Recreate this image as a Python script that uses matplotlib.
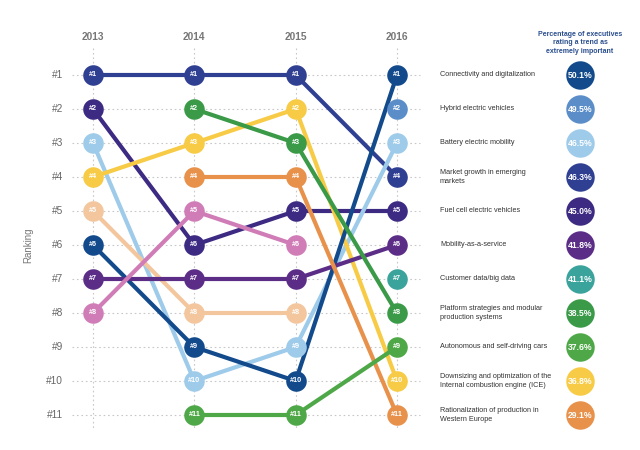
import numpy as np
import matplotlib
matplotlib.use("Agg")
import matplotlib.pyplot as plt

plt.rcParams['font.family'] = ['Liberation Sans', 'DejaVu Sans']

years = ["2013", "2014", "2015", "2016"]
rank_labels = ["#1", "#2", "#3", "#4", "#5", "#6", "#7", "#8", "#9", "#10", "#11"]

nan = np.nan
# ranks per year (2013, 2014, 2015, 2016)
connectivity = [6, 9, 10, 1]
hybrid = [nan, nan, nan, 2]
battery = [3, 10, 9, 3]
market_growth = [1, 1, 1, 4]
fuel_cell = [2, 6, 5, 5]
mobility = [7, 7, 7, 6]
customer_data = [nan, nan, nan, 7]
platform = [nan, 2, 3, 8]
autonomous = [nan, 11, 11, 9]
downsizing = [4, 3, 2, 10]
rationalization = [nan, 4, 4, 11]
peach_trend = [5, 8, 8, nan]
pink_trend = [8, 5, 6, nan]

series = [
    (market_growth, "#2f3f92"),
    (fuel_cell, "#3d2a82"),
    (battery, "#9fcbea"),
    (downsizing, "#f7cb45"),
    (peach_trend, "#f3c69e"),
    (connectivity, "#124a8c"),
    (mobility, "#5c2d87"),
    (pink_trend, "#d07db7"),
    (platform, "#3a9a48"),
    (rationalization, "#e8914b"),
    (autonomous, "#4ea847"),
    (hybrid, "#5b8ec8"),
    (customer_data, "#3aa39c"),
]

legend_labels = [
    "Connectivity and digitalization",
    "Hybrid electric vehicles",
    "Battery electric mobility",
    "Market growth in emerging\nmarkets",
    "Fuel cell electric vehicles",
    "Mobility-as-a-service",
    "Customer data/big data",
    "Platform strategies and modular\nproduction systems",
    "Autonomous and self-driving cars",
    "Downsizing and optimization of the\nInternal combustion engine (ICE)",
    "Rationalization of production in\nWestern Europe",
]
percentages = ["50.1%", "49.5%", "46.5%", "46.3%", "45.0%", "41.8%", "41.1%",
               "38.5%", "37.6%", "36.8%", "29.1%"]
legend_colors = ["#124a8c", "#5b8ec8", "#9fcbea", "#2f3f92", "#3d2a82", "#5c2d87",
                 "#3aa39c", "#3a9a48", "#4ea847", "#f7cb45", "#e8914b"]

fig = plt.figure(figsize=(6.4, 4.5), dpi=100)
ax = fig.add_axes([0, 0, 1, 1])
# pixel-aligned data coordinates
px_per_year = 101.33
x0px = 93
def xd(px):
    return (px - x0px) / px_per_year
def yd(py):
    return 1 + (py - 75) / 34.0
ax.set_xlim(xd(0), xd(640))
ax.set_ylim(yd(450), yd(0))
ax.axis('off')

xs = np.arange(len(years))
grid_c = "#c8c8c8"
for r in range(1, 12):
    ax.plot([xd(72), xd(420)], [r, r], ls=(0, (1.5, 2.5)), color=grid_c, lw=0.8, zorder=0)
for x in xs:
    ax.plot([x, x], [yd(48), yd(430)], ls=(0, (1.5, 2.5)), color=grid_c, lw=0.8, zorder=0)

for i, lab in enumerate(rank_labels):
    ax.text(xd(63), i + 1, lab, ha='right', va='center', fontsize=7.3, color="#666666")
for x, y in zip(xs, years):
    ax.text(x, yd(37), y, ha='center', va='center', fontsize=7.3, fontweight='bold', color="#777777")
ax.text(xd(28), yd(245), "Ranking", rotation=90, ha='center', va='center', fontsize=7, color="#777777")

for vals, col in series:
    v = np.array(vals, dtype=float)
    ax.plot(xs, v, color=col, lw=3.0, solid_capstyle='round', zorder=2)
for vals, col in series:
    v = np.array(vals, dtype=float)
    for x, r in zip(xs, v):
        if np.isnan(r):
            continue
        ax.plot(x, r, 'o', ms=14.8, color=col, mew=0, zorder=3)
        ax.text(x, r, "#%d" % int(r), ha='center', va='center', fontsize=5.2,
                fontweight='bold', color='white', zorder=4)

# right panel
ax.text(xd(580), yd(43), "Percentage of executives\nrating a trend as\nextremely important",
        ha='center', va='center', fontsize=5, fontweight='bold', color="#2b4f8f",
        linespacing=1.25)
for i, (lab, pct, col) in enumerate(zip(legend_labels, percentages, legend_colors)):
    r = i + 1
    ax.text(xd(440), r, lab, ha='left', va='center', fontsize=5.2, color="#333333",
            linespacing=1.3)
    ax.plot(xd(580.5), r, 'o', ms=20.5, color=col, mew=0, zorder=3)
    ax.text(xd(580.5), r, pct, ha='center', va='center', fontsize=6.2,
            fontweight='bold', color='white', zorder=4)

fig.savefig("out.png", dpi=100)
